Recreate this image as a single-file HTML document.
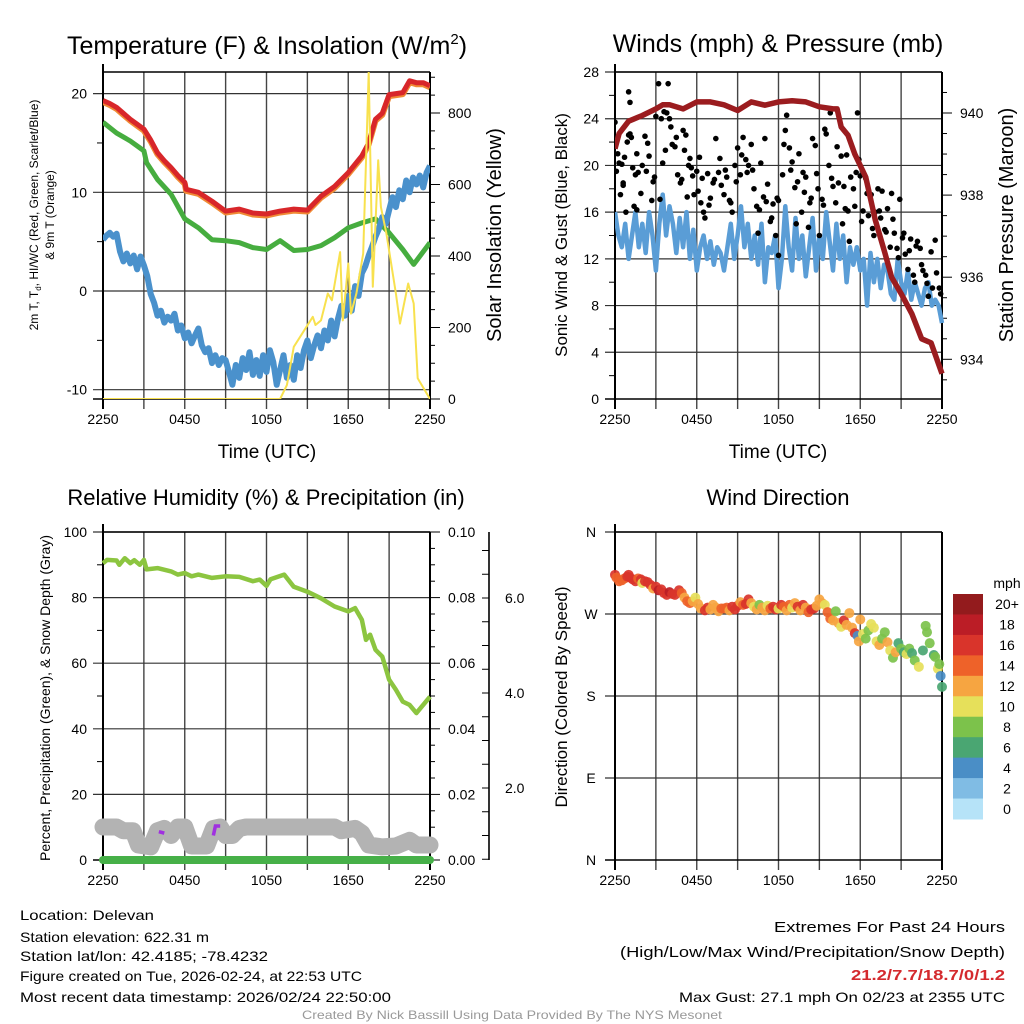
<!DOCTYPE html>
<html><head><meta charset="utf-8">
<style>
html,body{margin:0;padding:0;background:#fff;}
svg{display:block;font-family:"Liberation Sans",sans-serif;}
</style></head>
<body>
<svg id="c" width="1024" height="1024" viewBox="0 0 1024 1024" xmlns="http://www.w3.org/2000/svg"></svg>
<script>
// ---------- DATA ----------
const xTickLabels = ["2250","0450","1050","1650","2250"];
const qHours = [0,0.25,0.5,0.75,1,1.25,1.5,1.75,2,2.25,2.5,2.75,3,3.25,3.5,3.75,4,4.25,4.5,4.75,5,5.25,5.5,5.75,6,6.25,6.5,6.75,7,7.25,7.5,7.75,8,8.25,8.5,8.75,9,9.25,9.5,9.75,10,10.25,10.5,10.75,11,11.25,11.5,11.75,12,12.25,12.5,12.75,13,13.25,13.5,13.75,14,14.25,14.5,14.75,15,15.25,15.5,15.75,16,16.25,16.5,16.75,17,17.25,17.5,17.75,18,18.25,18.5,18.75,19,19.25,19.5,19.75,20,20.25,20.5,20.75,21,21.25,21.5,21.75,22,22.25,22.5,22.75,23,23.25,23.5,23.75,24];
// Panel 1
const tempHours = [0,0.5,1,1.5,2,2.5,3,3.5,4,4.5,5,5.5,6,6.1,7,8,9,10,11,12,13,14,15,16,17,18,19,19.5,20,20.5,21,22,22.5,23,23.5,24];
const tempRed   = [19.3,19.0,18.6,18.0,17.4,16.9,16.4,15.3,14.0,13.2,12.5,11.7,11.0,10.3,10.0,9.1,8.1,8.3,7.9,7.8,8.1,8.3,8.2,9.6,10.6,12.0,13.7,15.0,17.4,18.0,19.9,20.1,21.3,21.1,21.1,20.8];
const dewBlue  = [5.2,5.6,5.9,5.5,5.8,4,3,3.8,2.8, 3.6,2.2,3.5,2.6,1.5,-0.3,-1.2,-2.5, -2.0,-3.2,-2.6,-3.0,-2.3,-4.0,-3.5,-4.8, -4.2,-5.3,-4.5,-3.8,-5.5,-6.2,-5.8,-7.3, -6.5,-7.5,-6.8,-7.0,-8.2,-9.5,-7.5,-8.8, -6.8,-8.0,-6.2,-8.5,-7.0,-8.6,-6.5,-8.2, -6.0,-7.2,-9.5,-8.0,-6.5,-8.8,-7.5,-9.0, -6.5,-7.8,-6.0,-5.0,-6.8,-5.5,-4.5,-5.8, -4.0,-5.0,-3.0,-4.6,-2.8,-1.5,-2.5,-0.5, -2.0,0.5,-0.5,1.8,2.5,3.6,4.5,5.5, 6.3,7.5,6.8,8.2,9.5,8.5,10.2,9.3, 11.2,10.0,11.5,10.8,11.7,10.5,12.0,12.7];
const hiHours = [0,1,2,3,3.2,4,5,6,7,8,9,10,11,12,13,14,15,16,17,18,19,20,21,22,22.8,24];
const hiGreen = [17.1,16.0,15.2,14.2,13.0,11.3,9.8,7.3,6.4,5.2,5.1,4.9,4.4,4.2,5.1,4.1,4.2,4.6,5.4,6.4,6.9,7.3,5.9,4.2,2.7,4.9];
const solarHours = [0,13,13.5,14,15.4,15.6,16,16.5,16.8,17.4,17.6,18,18.2,18.6,19.1,19.5,19.8,20.2,20.4,20.8,21.5,21.8,22.4,22.8,23.1,24];
const solarVals  = [0,0,39,146,230,207,220,295,276,411,220,379,239,295,407,914,314,668,537,463,295,211,323,267,58,0];
// Panel 2
const presHours = [0,0.3,1,2,3,3.5,4,5,6,7,8,9,10,11,12,13,14,15,16,16.3,16.6,17.1,17.6,18.4,19.1,19.8,20.3,21,21.8,22.5,23.2,24];
const presVals  = [939.13,939.5,939.8,939.94,940.1,940.2,940.2,940.1,940.27,940.27,940.2,940.06,940.27,940.19,940.27,940.3,940.27,940.15,940.1,940.1,939.66,939.46,939.0,938.44,937.4,936.6,936.0,935.6,935.1,934.5,934.4,933.65];
const windVals  = [16,14,13,15,12,14,16,13,15, 12.5,16,14,11,15,17.5,14,16.5, 15,12.5,15.5,13,16,12,14.5,11, 13,14,12,13.5,11.5,13,12.5,11, 13,15,12,14,16.5,13,15,12, 14,11.5,15,10,13,12.5,14,9.5, 12,16.5,13,11,15.5,12,14,10.5, 13,15.5,11,14,12,16,13.5,11, 15,12,14,10,13,11.5,13,11, 12,8,12.5,10,12,9.5,11.5,11, 9,8.5,12,10,9,11,8.5,10, 9,8,9.5,10,8,8.5,8,6.5];
const gustHours = [0,0.1,0.3,0.4,0.5,0.6,0.7,0.8,0.9,1,1.1,1.1,1.2,1.3,1.4,1.5,1.6,1.7,1.9,2,2.2,2.3,2.5,2.7,2.9,3,3.2,3.4,3.5,3.7,3.8,3.9,4,4.2,4.5,4.6,4.8,5,5.1,5.3,5.4,5.5,5.6,5.8,6,6.2,6.3,6.5,6.6,6.8,7,7.2,7.4,7.6,7.8,8,8.2,8.4,8.6,8.8,9,9.2,9.4,9.6,9.8,10,10.2,10.4,10.5,10.7,10.9,11,11.2,11.4,11.6,11.8,12,12,12.3,12.5,12.6,12.8,13,13.2,13.3,13.5,13.7,13.9,14,14.2,14.4,14.5,14.7,14.9,15,15.2,15.4,15.5,15.7,15.8,16,16.2,16.4,16.6,16.7,16.9,17,17.2,17.3,17.5,17.6,17.8,17.9,18,18.2,18.4,18.6,18.8,19,19.1,19.3,19.5,19.6,19.8,20,20.2,20.3,20.5,20.7,20.9,21.1,21.3,21.5,21.7,21.9,22,22.2,22.4,22.6,22.8,23,23.3,23.5,23.6,23.8,0.2,0.6,1.0,1.6,2.4,2.8,3.3,3.6,4.1,4.4,4.9,5.2,5.7,6.1,6.4,6.9,7.3,7.7,8.1,8.5,8.9,9.3,9.7,10.1,10.6,11.1,11.5,11.9,12.4,12.9,13.4,13.8,14.3,14.8,15.3,15.9,16.3,16.8,17.1,17.7,18.1,18.5,18.9,19.4,19.9,20.4,20.8,21.2,21.6,22.1,22.5,22.9,23.2,23.9];
const gustVals  = [23.7,19.5,20.2,17.5,20.1,18.3,20.7,16,22,26.3,25.4,22.7,22.4,19.8,16.5,19.2,21,19.4,17.6,20,22.5,19.5,20.8,17,19,24.2,27,24,20.2,21.3,24.5,27,24,21.8,22.4,19.2,18.5,23,21.3,17.3,20,20.6,19.8,17.5,19.5,20.7,16.8,16,15.5,19.3,17.2,18.5,22.3,19.4,18.3,17.5,19,17,16,20,21.5,19.2,22.4,20.5,20,21.8,18,16.5,14.2,20.2,17.3,22.3,18.4,15.2,16.7,14,12.3,17,19.2,23,24.3,21.5,20.3,18.1,15,21,16,17.7,19,14.7,17.2,22.3,21.7,18,14,17.1,23.1,22.7,20,24.5,18.2,16.8,18.5,20.8,15,16.3,20.9,13.5,19,18,16.5,24.5,20.5,19.1,16.1,18.9,15.7,17.5,14,16,18,15.5,17.8,14.5,16.3,13,17.6,14.2,12.9,17.1,13.8,12.4,11.1,13.7,10.6,10,13.5,12.9,11,10.6,8.8,9.5,13.6,10.8,9.5,21,18.5,22.6,16.2,21.9,18.6,17.1,24.6,23.3,21.6,18.8,22.6,19.1,17.8,18.9,16.6,18.8,20.6,19.6,16.8,18.6,20.9,19.4,19.6,16.2,16.9,15.5,17.2,21.8,19.6,18.6,19.4,16.8,19.3,16.6,18.9,21.6,18.2,16.1,19.4,15.2,17.6,14.6,16.1,14.3,15.4,12.1,14.2,12.7,13.1,11.5,9.9,12.6,9.0];
// Panel 3
const rhHours = [0,0.3,1,1.2,1.6,2,2.3,2.7,3,3.2,4,5,5.5,6,6.5,7,8,9,10,11,11.5,12,12.3,13,13.3,14,15,16,17,18,18.5,19,19.3,19.6,20,20.5,21,21.5,22,22.5,23,24];
const rhVals  = [90.5,91.5,91.3,90,92,90.5,91.4,90,91.5,88.6,89,88,87,87.5,86.5,87,86,86.5,86.3,85,85.5,83.6,85.6,86.6,87,83.3,81.8,79.8,77.3,75.8,76.8,73.2,67.1,68.7,64.1,62,55,51.9,48.3,47.3,44.8,49.8];
const snowHours = [0,1,1.5,2.2,2.6,3.5,4,4.5,5,5.5,6,6.5,7.6,8.1,8.6,9,9.5,10,10.5,17,17.5,18.5,19,19.5,20.5,21.5,22.5,23,24];
const snowVals  = [1.18,1.18,1.1,1.1,0.8,0.76,1.1,1.15,1.0,1.18,1.18,0.78,0.78,1.15,1.18,1.0,1.0,1.15,1.18,1.18,1.1,1.15,1.05,0.8,0.76,0.78,0.9,0.8,0.8];
const precipHours = [0,24];
const precipVals = [0,0];
// Panel 4
const dirHours = [0,0.1,0.3,0.5,0.7,0.9,1,1.1,1.3,1.5,1.7,1.9,2,2.2,2.4,2.6,2.8,3,3.2,3.4,3.6,3.8,4,4.2,4.4,4.7,4.9,5.1,5.3,5.5,5.7,5.9,6.1,6.3,6.6,6.8,7,7.2,7.4,7.6,7.8,8,8.2,8.4,8.6,8.8,9,9.2,9.4,9.6,9.8,10,10.2,10.4,10.6,10.8,11,11.2,11.4,11.6,11.8,12,12.2,12.4,12.6,12.8,13,13.2,13.4,13.6,13.8,14,14.2,14.4,14.6,14.8,15,15.2,15.4,15.6,15.8,16,16.2,16.4,16.6,16.8,17,17.2,17.4,17.6,17.8,17.9,18,18.2,18.4,18.6,18.8,19,19.2,19.4,19.6,19.8,20,20.2,20.4,20.6,20.8,21,21.2,21.4,21.6,21.8,22,22.3,22.6,22.8,22.9,23.1,23.4,23.5,23.7,23.8,23.9,24];
const dirDeg   = [313,310,306,307,309,311,313,310,308,306,309,308,304,306,305,302,298,300,296,297,293,291,294,292,291,296,293,288,284,282,284,288,281,276,274,277,275,280,277,273,276,276,277,274,278,275,279,283,280,281,286,282,278,275,280,277,274,279,276,278,275,276,280,278,274,280,277,282,278,274,280,277,272,275,276,279,286,282,280,272,265,263,273,260,256,263,258,271,255,249,246,240,264,248,243,252,259,255,240,236,243,250,239,230,222,228,238,232,228,226,232,227,219,212,230,257,250,238,225,223,210,215,202,190,180];
const dirSpeed = [17,15,14,14,15,16,17,17,16,17,15,16,10,16,17,16,12,17,18,17,16,16,18,16,17,16,14,12,14,14,13,10,12,12,16,17,12,12,13,12,14,15,14,13,16,17,16,12,14,16,16,13,11,12,8,13,12,10,14,17,16,11,16,14,12,15,10,13,16,13,17,12,14,17,16,12,12,13,10,14,15,13,8,12,10,16,13,12,12,16,4,12,13,10,8,8,10,10,10,13,9,8,13,11,8,12,6,8,6,10,8,6,8,10,6,8,8,8,6,8,10,8,5,6,5];
const cbLabels = ["20+","18","16","14","12","10","8","6","4","2","0"];
const cbColors = ["#931b1d","#bb1d26","#d9342b","#ee6229","#f6a541","#e6e05a","#7cc24b","#4aa672","#4a8ec6","#80bce4","#b6e3f8"];

// ---------- HELPERS ----------
const svg = document.getElementById('c');
const NS = "http://www.w3.org/2000/svg";
function mk(tag, attrs, parent){
  const e = document.createElementNS(NS, tag);
  for (const k in attrs) e.setAttribute(k, attrs[k]);
  (parent||svg).appendChild(e);
  return e;
}
function txt(s, x, y, size, anchor, parent, extra){
  const t = mk('text', Object.assign({x:x, y:y, 'font-size':size, 'text-anchor':anchor||'middle', fill:'#000'}, extra||{}), parent);
  t.textContent = s;
  return t;
}
function pathFrom(hs, vs, xf, yf){
  let d = '';
  for (let i=0;i<hs.length;i++) d += (i?'L':'M') + xf(hs[i]).toFixed(1) + ' ' + yf(vs[i]).toFixed(1);
  return d;
}
function colorFor(s){
  let idx = 10 - Math.min(10, Math.floor(s/2));
  return cbColors[idx];
}
function frame(g, X0, X1, Y0, Y1, gridYs, namePrefix){
  const xs = h => X0 + (X1-X0)*h/24;
  for (let k=1;k<8;k++){
    const l = mk('line',{x1:xs(k*3),x2:xs(k*3),y1:Y0,y2:Y1+10,stroke:'#444','stroke-width':1.4},g);
    
    
  }
  gridYs.forEach(y=>{
    const l = mk('line',{x1:X0-10,x2:X1,y1:y,y2:y,stroke:'#333','stroke-width':1.2},g);
    
    
  });
  mk('line',{x1:X0,x2:X1,y1:Y0,y2:Y0,stroke:'#000','stroke-width':1.4},g);
  mk('line',{x1:X0,x2:X0,y1:Y0-8,y2:Y1+10,stroke:'#000','stroke-width':2},g);
  mk('line',{x1:X1,x2:X1,y1:Y0,y2:Y1+10,stroke:'#000','stroke-width':2},g);
  mk('line',{x1:X0-10,x2:X1,y1:Y1,y2:Y1,stroke:'#000','stroke-width':1.4},g);
  xTickLabels.forEach((lab,i)=>{
    const t = txt(lab, xs(i*6), Y1+25, 14, 'middle', g);
    
    
  });
  return xs;
}

// ---------- PANEL 1 ----------
(function(){
  const g = mk('g',{});
  
  
  const X0=103,X1=430,Y0=72,Y1=399;
  const yT = v => 291 - v*9.87;
  const yS = v => 399 - v*(286/800);
  const xs = frame(g,X0,X1,Y0,Y1,[yT(20),yT(10),yT(0),yT(-10)],'temp');
  [20,10,0,-10].forEach(v=>{ const t=txt(String(v),X0-16,yT(v)+5,14,'end',g);  });
  [15,5,-5].forEach(v=>mk('line',{x1:X0-6,x2:X0,y1:yT(v),y2:yT(v),stroke:'#000'},g));
  for(let v=0;v<=900;v+=50){ if(yS(v)<Y0) break; mk('line',{x1:X1,x2:X1+(v%200==0?10:5),y1:yS(v),y2:yS(v),stroke:'#000'},g);}
  [0,200,400,600,800].forEach(v=>{ const t=txt(String(v),X1+18,yS(v)+5,14,'start',g);  });
  const cp = mk('clipPath',{id:'cp1'},g); mk('rect',{x:X0,y:Y0,width:X1-X0,height:Y1-Y0},cp);
  const pg = mk('g',{'clip-path':'url(#cp1)'},g);
  let p;
  p = mk('path',{d:pathFrom(tempHours,tempRed.map(v=>v-0.15),xs,yT),fill:'none',stroke:'#f08a35','stroke-width':6,'stroke-linejoin':'round'},pg);
   
  p = mk('path',{d:pathFrom(tempHours,tempRed,xs,yT),fill:'none',stroke:'#d8262a','stroke-width':5,'stroke-linejoin':'round'},pg);
   
  p = mk('path',{d:pathFrom(hiHours,hiGreen,xs,yT),fill:'none',stroke:'#46ad3f','stroke-width':5,'stroke-linejoin':'round'},pg);
   
  p = mk('path',{d:pathFrom(qHours,dewBlue,xs,yT),fill:'none',stroke:'#4a91cc','stroke-width':6,'stroke-linejoin':'round'},pg);
   
  p = mk('path',{d:pathFrom(solarHours,solarVals,xs,yS),fill:'none',stroke:'#f8e14e','stroke-width':2,'stroke-linejoin':'round'},pg);
   
  const t1 = mk('text',{x:267,y:54,'font-size':25,'text-anchor':'middle'},g);
  t1.innerHTML = 'Temperature (F) &amp; Insolation (W/m<tspan font-size="15" dy="-10">2</tspan><tspan dy="10">)</tspan>';
   
  let t = txt('Time (UTC)',267,458,19,'middle',g);  
  t = mk('text',{x:0,y:0,'font-size':12,'text-anchor':'middle',transform:'translate(38,215) rotate(-90)'},g);
  t.innerHTML = '2m T, T<tspan font-size="8" dy="3">d</tspan><tspan dy="-3">, HI/WC (Red, Green, Scarlet/Blue)</tspan>';
   
  t = txt('& 9m T (Orange)',0,0,12,'middle',g,{transform:'translate(54,215) rotate(-90)'});  
  t = txt('Solar Insolation (Yellow)',0,0,20,'middle',g,{transform:'translate(501,235) rotate(-90)'});  
})();

// ---------- PANEL 2 ----------
(function(){
  const g = mk('g',{});
  
  
  const X0=615,X1=942,Y0=72,Y1=399;
  const yW = v => 399 - v*(327/28);
  const yP = v => 113 + (940-v)*41.05;
  const grids=[]; for(let v=4;v<=28;v+=4) grids.push(yW(v));
  const xs = frame(g,X0,X1,Y0,Y1,grids,'wind');
  for(let v=0;v<=28;v+=4){ const t=txt(String(v),X0-16,yW(v)+5,14,'end',g);  }
  for(let v=2;v<28;v+=4) mk('line',{x1:X0-6,x2:X0,y1:yW(v),y2:yW(v),stroke:'#000'},g);
  for(let v=933.5;v<=941;v+=0.5){ const y=yP(v); if(y<Y0||y>Y1) continue; mk('line',{x1:X1,x2:X1+(v%2==0?10:5),y1:y,y2:y,stroke:'#000'},g);}
  [934,936,938,940].forEach(v=>{ const t=txt(String(v),X1+18,yP(v)+5,14,'start',g);  });
  const cp = mk('clipPath',{id:'cp2'},g); mk('rect',{x:X0,y:Y0,width:X1-X0+3,height:Y1-Y0},cp);
  const pg = mk('g',{'clip-path':'url(#cp2)'},g);
  let p = mk('path',{d:pathFrom(qHours,windVals,xs,yW),fill:'none',stroke:'#5a9dd6','stroke-width':4.5,'stroke-linejoin':'round'},pg);
   
  for(let i=0;i<gustHours.length;i++){
    const c = mk('circle',{cx:xs(gustHours[i]),cy:yW(gustVals[i]),r:2.8,fill:'#000'},pg);
    
    
  }
  p = mk('path',{d:pathFrom(presHours,presVals,xs,yP),fill:'none',stroke:'#9b1c1f','stroke-width':5.5,'stroke-linejoin':'round'},pg);
   
  let t = txt('Winds (mph) & Pressure (mb)',778,52,25,'middle',g);  
  t = txt('Time (UTC)',778,458,19,'middle',g);  
  t = txt('Sonic Wind & Gust (Blue, Black)',0,0,17,'middle',g,{transform:'translate(567,235) rotate(-90)'});  
  t = txt('Station Pressure (Maroon)',0,0,20,'middle',g,{transform:'translate(1013,225) rotate(-90)'});  
})();

// ---------- PANEL 3 ----------
(function(){
  const g = mk('g',{});
  
  
  const X0=103,X1=430,Y0=532,Y1=860;
  const yR = v => 860 - v*3.28;
  const yPr = v => 860 - v*3280;
  const yS = v => 883 - v*47.5;
  const xs = frame(g,X0,X1,Y0,Y1,[yR(100),yR(80),yR(60),yR(40),yR(20)],'rh');
  [0,20,40,60,80,100].forEach(v=>{ const t=txt(String(v),X0-16,yR(v)+5,14,'end',g);  });
  [10,30,50,70,90].forEach(v=>mk('line',{x1:X0-6,x2:X0,y1:yR(v),y2:yR(v),stroke:'#000'},g));
  for(let v=0;v<=100;v+=5) mk('line',{x1:X1,x2:X1+(v%20==0?10:5),y1:yR(v),y2:yR(v),stroke:'#000'},g);
  ["0.00","0.02","0.04","0.06","0.08","0.10"].forEach((s,i)=>{ const t=txt(s,X1+18,yPr(i*0.02)+5,14,'start',g);  });
  mk('line',{x1:489,x2:489,y1:532,y2:860,stroke:'#000','stroke-width':1.6},g);
  for(let v=0.5;v<=7.5;v+=0.5){ const y=yS(v); if(y<Y0||y>Y1) continue; mk('line',{x1:482,x2:489,y1:y,y2:y,stroke:'#000'},g);}
  ["2.0","4.0","6.0"].forEach((s,i)=>{ const t=txt(s,505,yS((i+1)*2)+5,14,'start',g);  });
  let p = mk('path',{d:pathFrom(snowHours,snowVals,xs,yS),fill:'none',stroke:'#b3b3b3','stroke-width':17,'stroke-linejoin':'round','stroke-linecap':'round'},g);
   
  p = mk('path',{d:'M'+xs(4.1)+' '+yS(1.08)+'L'+xs(4.5)+' '+yS(1.05),fill:'none',stroke:'#a030e0','stroke-width':3.5},g);
   
  p = mk('path',{d:'M'+xs(8.1)+' '+yS(1.0)+'L'+xs(8.25)+' '+yS(1.2)+'L'+xs(8.6)+' '+yS(1.2),fill:'none',stroke:'#a030e0','stroke-width':3.5},g);
   
  p = mk('path',{d:pathFrom(precipHours,precipVals,xs,yPr),fill:'none',stroke:'#46b048','stroke-width':8,'stroke-linecap':'round'},g);
   
  p = mk('path',{d:pathFrom(rhHours,rhVals,xs,yR),fill:'none',stroke:'#8cc540','stroke-width':4.5,'stroke-linejoin':'round'},g);
   
  let t = txt('Relative Humidity (%) & Precipitation (in)',266,505,22,'middle',g);  
  t = txt('Percent, Precipitation (Green), & Snow Depth (Gray)',0,0,14,'middle',g,{transform:'translate(50,698) rotate(-90)'});  
})();

// ---------- PANEL 4 ----------
(function(){
  const g = mk('g',{});
  
  
  const X0=615,X1=942,Y0=532,Y1=860;
  const yD = v => 860 - v*(328/360);
  const xs = frame(g,X0,X1,Y0,Y1,[yD(360),yD(270),yD(180),yD(90)],'dir');
  ["N","E","S","W","N"].forEach((s,i)=>{ const t=txt(s,591,yD(i*90)+5,14,'middle',g);  });
  for(let i=0;i<dirHours.length;i++){
    const c = mk('circle',{cx:xs(dirHours[i]),cy:yD(dirDeg[i]),r:5,fill:colorFor(dirSpeed[i]),'fill-opacity':0.92},g);
    
    
  }
  let t = txt('Wind Direction',778,505,22,'middle',g);  
  t = txt('Direction (Colored By Speed)',0,0,17,'middle',g,{transform:'translate(567,697) rotate(-90)'});  
  const cb = mk('g',{},g);
   
  const bh = 225/11;
  cbColors.forEach((c,i)=>{
    const r = mk('rect',{x:953,y:594+i*bh,width:30,height:bh+0.5,fill:c},cb);
     
    const l = txt(cbLabels[i],1007,594+i*bh+bh/2+5,14,'middle',cb);
     
  });
  t = txt('mph',1007,588,14,'middle',cb);  
})();

// ---------- FOOTER ----------
(function(){
  const g = mk('g',{});
   
  const left = [["Location: Delevan",920,134],["Station elevation: 622.31 m",942,189],["Station lat/lon: 42.4185; -78.4232",961,248],["Figure created on Tue, 2026-02-24, at 22:53 UTC",981,342],["Most recent data timestamp: 2026/02/24 22:50:00",1002,371]];
  left.forEach(a=>{ const t=txt(a[0],20,a[1],14,'start',g,{textLength:a[2],lengthAdjust:'spacingAndGlyphs'});  });
  let t = txt('Extremes For Past 24 Hours',1005,932,15,'end',g,{textLength:231,lengthAdjust:'spacingAndGlyphs'});  
  t = txt('(High/Low/Max Wind/Precipitation/Snow Depth)',1005,957,15,'end',g,{textLength:385,lengthAdjust:'spacingAndGlyphs'});  
  t = txt('21.2/7.7/18.7/0/1.2',1005,980,15,'end',g,{textLength:154,lengthAdjust:'spacingAndGlyphs',fill:'#d42a2e','font-weight':'bold'});  
  t = txt('Max Gust: 27.1 mph On 02/23 at 2355 UTC',1005,1002,14,'end',g,{textLength:326,lengthAdjust:'spacingAndGlyphs'});  
  t = txt('Created By Nick Bassill Using Data Provided By The NYS Mesonet',512,1019,12,'middle',g,{textLength:420,lengthAdjust:'spacingAndGlyphs',fill:'#999'});  
})();
</script>
</body></html>
